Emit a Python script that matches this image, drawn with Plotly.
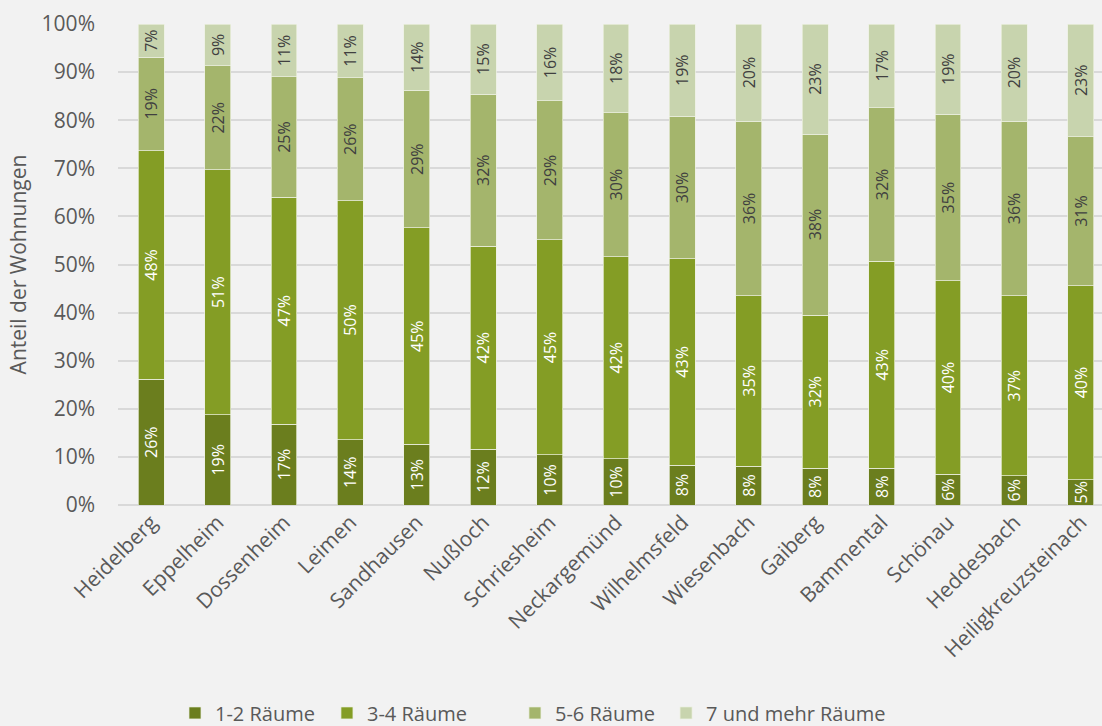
import plotly.graph_objects as go

# Gemeinden im Rhein-Neckar-Kreis (Raum Heidelberg)
gemeinden = [
    "Heidelberg", "Eppelheim", "Dossenheim", "Leimen", "Sandhausen",
    "Nußloch", "Schriesheim", "Neckargemünd", "Wilhelmsfeld", "Wiesenbach",
    "Gaiberg", "Bammental", "Schönau", "Heddesbach", "Heiligkreuzsteinach",
]

# Anteil der Wohnungen nach Zahl der Räume, in Prozent
raeume_1_2 = [26.1, 18.8, 16.8, 13.6, 12.6, 11.6, 10.4, 9.6, 8.3, 8.1, 7.6, 7.6, 6.4, 6.1, 5.3]
raeume_3_4 = [47.6, 50.9, 47.2, 49.7, 45.0, 42.2, 44.7, 42.0, 42.9, 35.4, 31.9, 43.1, 40.2, 37.4, 40.3]
raeume_5_6 = [19.4, 21.6, 25.0, 25.5, 28.6, 31.6, 28.9, 30.0, 29.6, 36.3, 37.6, 31.9, 34.6, 36.3, 31.0]
raeume_7_plus = [6.9, 8.7, 11.0, 11.2, 13.8, 14.6, 16.0, 18.4, 19.2, 20.2, 22.9, 17.4, 18.8, 20.2, 23.4]

y_ticks = list(range(0, 101, 10))

serien = [
    ("1-2 Räume", raeume_1_2, "#6B7E1E", "#FFFFFF"),
    ("3-4 Räume", raeume_3_4, "#849D25", "#FFFFFF"),
    ("5-6 Räume", raeume_5_6, "#A4B56C", "#404040"),
    ("7 und mehr Räume", raeume_7_plus, "#C8D4AE", "#404040"),
]

FONT = "Open Sans, Noto Sans, sans-serif"
GRAU = "#595959"

# one legend box per series, laid out in a row under the chart
legend_ids = ["legend", "legend2", "legend3", "legend4"]
legend_x = [0.1588, 0.2967, 0.4673, 0.6044]

fig = go.Figure()
for (name, werte, farbe, textfarbe), lid in zip(serien, legend_ids):
    fig.add_trace(go.Bar(
        x=gemeinden,
        y=werte,
        name=name,
        legend=lid,
        marker=dict(color=farbe, line=dict(color="rgba(235,240,225,0.9)", width=0.8)),
        texttemplate="%{y:.0f}%",
        textposition="inside",
        insidetextanchor="middle",
        textangle=-90,
        textfont=dict(family=FONT, size=16, color=textfarbe),
        hovertemplate="%{x}: %{y:.1f}%<extra>" + name + "</extra>",
    ))

legend_style = dict(
    orientation="h",
    xref="container",
    xanchor="left",
    yref="container",
    y=0.018,
    yanchor="middle",
    font=dict(family=FONT, size=20, color=GRAU),
    itemwidth=30,
    bgcolor="rgba(0,0,0,0)",
)

fig.update_layout(
    barmode="stack",
    bargap=0.61,
    width=1102,
    height=726,
    margin=dict(l=118, r=0, t=24, b=221),
    paper_bgcolor="#F2F2F2",
    plot_bgcolor="#F2F2F2",
    font=dict(family=FONT, color=GRAU, size=21),
    uniformtext=dict(mode="show", minsize=15),
    showlegend=True,
)
for lid, lx in zip(legend_ids, legend_x):
    fig.update_layout({lid: dict(legend_style, x=lx)})

fig.update_xaxes(
    range=[-0.5, 14.32],
    tickangle=-45,
    tickfont=dict(family=FONT, size=21, color=GRAU),
    showgrid=False,
    showline=False,
    ticks="",
)

fig.update_yaxes(
    range=[0, 100],
    tickvals=y_ticks,
    ticktext=[f"{v}%" for v in y_ticks],
    tickfont=dict(family=FONT, size=21, color=GRAU),
    ticklabelstandoff=22,
    showgrid=True,
    gridcolor="#D9D9D9",
    gridwidth=1.5,
    zeroline=True,
    zerolinecolor="#D9D9D9",
    zerolinewidth=2,
    title=dict(text="Anteil der Wohnungen", font=dict(family=FONT, size=21, color=GRAU), standoff=9),
)

fig.write_html("out.html")
